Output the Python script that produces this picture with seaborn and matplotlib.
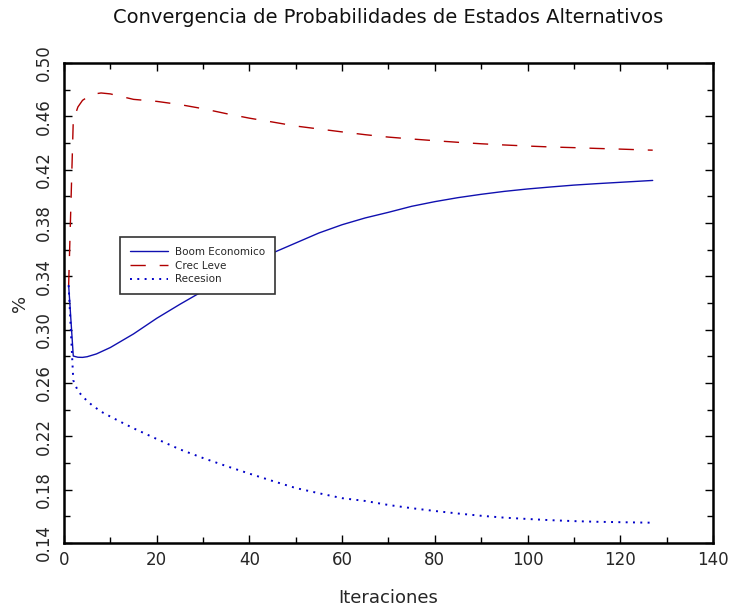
import matplotlib
matplotlib.use("Agg")
import matplotlib.pyplot as plt
import seaborn as sns
import pandas as pd
from matplotlib.ticker import MultipleLocator, FixedLocator

# ---- data ----
boom_x = [1, 2, 3, 4, 5, 7, 10, 15, 20, 25, 30, 35, 40, 45, 50, 55, 60, 65, 70,
          75, 80, 85, 90, 95, 100, 105, 110, 115, 120, 125, 127]
boom_y = [0.3333, 0.2802, 0.2793, 0.2792, 0.2797, 0.2818, 0.2866, 0.2968, 0.3085,
          0.3190, 0.3290, 0.3388, 0.3480, 0.3575, 0.3650, 0.3725, 0.3787, 0.3838,
          0.3880, 0.3925, 0.3960, 0.3990, 0.4015, 0.4037, 0.4055, 0.4070, 0.4084,
          0.4095, 0.4105, 0.4115, 0.4119]

crec_x = [1, 2, 3, 4, 6, 8, 10, 15, 20, 25, 30, 35, 40, 45, 50, 55, 60, 65, 70,
          75, 80, 85, 90, 95, 100, 105, 110, 115, 120, 125, 127]
crec_y = [0.3333, 0.457, 0.467, 0.472, 0.4765, 0.4775, 0.4768, 0.4727, 0.4712,
          0.4688, 0.4657, 0.4620, 0.4586, 0.4557, 0.4527, 0.4505, 0.4483, 0.4462,
          0.4444, 0.4430, 0.4417, 0.4405, 0.4394, 0.4385, 0.4377, 0.4370, 0.4365,
          0.4359, 0.4354, 0.4348, 0.4346]

rec_x = [1, 2, 3, 4, 5, 6, 8, 10, 12, 15, 20, 25, 30, 35, 40, 45, 50, 55, 60, 65,
         70, 75, 80, 85, 90, 95, 100, 105, 110, 115, 120, 125, 127]
rec_y = [0.3333, 0.2620, 0.2540, 0.2500, 0.2465, 0.2435, 0.2385, 0.2348, 0.2312,
         0.2260, 0.2180, 0.2102, 0.2037, 0.1977, 0.1920, 0.1865, 0.1812, 0.1773,
         0.1736, 0.1715, 0.1685, 0.1661, 0.1640, 0.1621, 0.1604, 0.1590, 0.1580,
         0.1571, 0.1564, 0.1559, 0.1556, 0.1553, 0.1552]

labels = ["Boom Economico", "Crec Leve", "Recesion"]
title = "Convergencia de Probabilidades de Estados Alternativos"
xlabel = "Iteraciones"
ylabel = "%"
yticks = [0.14, 0.18, 0.22, 0.26, 0.30, 0.34, 0.38, 0.42, 0.46, 0.50]
xticks = [0, 20, 40, 60, 80, 100, 120, 140]

sns.set_style("ticks")
plt.rcParams["font.family"] = ["DejaVu Sans"]

fig = plt.figure(figsize=(7.29, 6.09), dpi=100)
ax = fig.add_axes([0.0878, 0.1084, 0.8902, 0.7882])

df_b = pd.DataFrame({"x": boom_x, "y": boom_y})
df_c = pd.DataFrame({"x": crec_x, "y": crec_y})
df_r = pd.DataFrame({"x": rec_x, "y": rec_y})

sns.lineplot(data=df_b, x="x", y="y", ax=ax, color="#1010b0", linewidth=1.0,
             label=labels[0])
sns.lineplot(data=df_c, x="x", y="y", ax=ax, color="#b00000", linewidth=1.0,
             linestyle=(0, (11, 10)), label=labels[1])
sns.lineplot(data=df_r, x="x", y="y", ax=ax, color="#0000c8", linewidth=1.4,
             linestyle=(0, (1, 2.76)), label=labels[2])

ax.set_xlim(0, 140)
ax.set_ylim(0.14, 0.50)
ax.xaxis.set_major_locator(FixedLocator(xticks))
ax.xaxis.set_minor_locator(MultipleLocator(10))
ax.yaxis.set_major_locator(FixedLocator(yticks))
ax.yaxis.set_minor_locator(MultipleLocator(0.02))
ax.set_xticklabels([str(v) for v in xticks])
ax.set_yticklabels(["%.2f" % v for v in yticks], rotation=90, va="center")

ax.tick_params(which="both", direction="in", top=True, right=True,
               color="black", width=1.0)
ax.tick_params(which="major", length=6, labelsize=12, pad=6)
ax.tick_params(which="minor", length=4)
ax.tick_params(axis="y", which="major", pad=8)

for s in ax.spines.values():
    s.set_linewidth(1.8)
    s.set_color("black")
    s.set_visible(True)

ax.set_title(title, fontsize=14, pad=29, color="#111111")
ax.set_xlabel(xlabel, fontsize=13, va="center")
ax.xaxis.set_label_coords(0.5, -0.115)
ax.set_ylabel(ylabel, fontsize=13, va="center")
ax.yaxis.set_label_coords(-0.068, 0.5)

leg = ax.legend(loc="upper left", bbox_to_anchor=(0.086, 0.6375),
                borderaxespad=0, fontsize=7.5, frameon=True, fancybox=False,
                framealpha=1, edgecolor="#333333", handlelength=3.7,
                handletextpad=0.6, labelspacing=0.35, borderpad=0.95)
leg.get_frame().set_linewidth(1.2)

fig.savefig("out.png", dpi=100)
